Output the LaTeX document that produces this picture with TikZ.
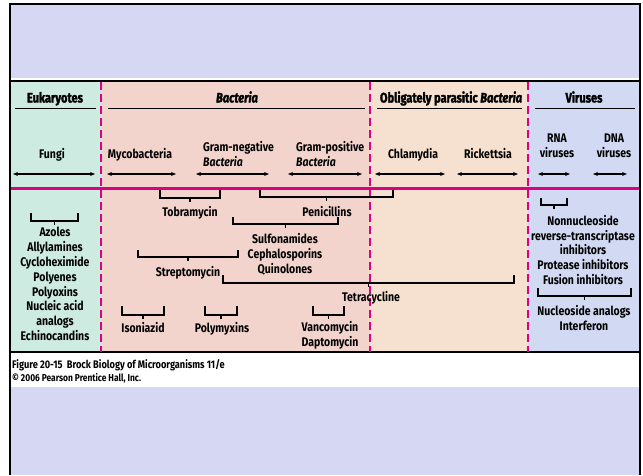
\documentclass[tikz,border=0pt]{standalone}
\usepackage{fontspec}
\setmainfont{Fira Sans}[FakeStretch=0.84]
\newfontfamily\headfont{Fira Sans}[FakeStretch=0.8,FakeBold=2]
\usetikzlibrary{arrows.meta,positioning}

\definecolor{lavtop}{RGB}{214,215,243}
\definecolor{eukcol}{RGB}{205,235,224}
\definecolor{bactcol}{RGB}{243,212,205}
\definecolor{oblcol}{RGB}{246,225,208}
\definecolor{vircol}{RGB}{210,218,243}
\definecolor{divmag}{RGB}{222,0,130}

\tikzset{
  head/.style={font=\headfont\bfseries\fontsize{13.8}{15}\selectfont, anchor=base, inner sep=0pt},
  org/.style={font=\bfseries\fontsize{12.5}{15}\selectfont, align=center, anchor=base, inner sep=0pt},
  drug/.style={font=\bfseries\fontsize{12.5}{14.8}\selectfont, align=center, anchor=base, inner sep=0pt},
  hostspan/.style={{Stealth[length=5pt,width=4pt]}-{Stealth[length=5pt,width=4pt]}, line width=1.3pt},
  divider/.style={divmag, line width=2.5pt, dash pattern=on 8pt off 4pt},
  brk/.style={line width=1.6pt},
  headrule/.style={line width=1pt}
}

% bracket: x1, x2, top of ticks, bar
\newcommand{\drugbrk}[4]{%
  \draw[brk] (#1,#3) -- (#1,#4) -- (#2,#4) -- (#2,#3)
    ({(#1+#2)/2},#4) -- ++(0,4);}

\begin{document}
\begin{tikzpicture}[x=1pt,y=-1pt]
\useasboundingbox (0,0) rectangle (643,475);

% frame and panels
\fill[lavtop] (11,5) rectangle (639,78);
\fill[lavtop] (11,387) rectangle (639,475);
\fill[eukcol] (11,82) rectangle (101,352);
\fill[bactcol] (101,82) rectangle (370,352);
\fill[oblcol] (370,82) rectangle (528,352);
\fill[vircol] (528,82) rectangle (639,352);
\draw[line width=2pt] (10,475) -- (10,4) -- (640,4) -- (640,475);
\draw[line width=2pt] (10,81) -- (640,81);
\draw[line width=2pt] (10,352) -- (640,352);

% group headings
\node[head] (euk) at (55,102.5) {Eukaryotes};
\node[head] (bact) at (237,102.5) {\itshape Bacteria};
\node[head] (obl) at (451,102.5) {Obligately parasitic \itshape Bacteria};
\node[head] (vir) at (584,102.5) {Viruses};
\draw[headrule] (15,108) -- (96,108);
\draw[headrule] (108,108) -- (365,108);
\draw[headrule] (377,108) -- (522,108);
\draw[headrule] (535,108) -- (635,108);

% organisms (base = last line)
\node[org] (fungi) at (52,158.5) {Fungi};
\node[org] (myco) at (140,158.5) {Mycobacteria};
\node[org, align=left, anchor=base west] (gramneg) at (203,166.5) {Gram-negative\\\itshape Bacteria};
\node[org, align=left, anchor=base west] (grampos) at (296,166.5) {Gram-positive\\\itshape Bacteria};
\node[org] (chlam) at (413,158.5) {Chlamydia};
\node[org] (rick) at (488,158.5) {Rickettsia};
\node[org] (rna) at (557,157.5) {RNA\\viruses};
\node[org] (dna) at (614,157.5) {DNA\\viruses};

\draw[hostspan] (13,174) -- (95,174);
\draw[hostspan] (107,174) -- (176,174);
\draw[hostspan] (196,174) -- (269,174);
\draw[hostspan] (288,174) -- (362,174);
\draw[hostspan] (375,174) -- (445,174);
\draw[hostspan] (457,174) -- (518,174);
\draw[hostspan] (538,174) -- (570,174);
\draw[hostspan] (593,174) -- (627,174);

% dividers
\draw[divmag, line width=3pt] (11,188) -- (639,188);
\foreach \xd in {101,370,528}
  \draw[divider] (\xd,82) -- (\xd,352);

% drugs
\drugbrk{31}{78}{213}{221}
\node[drug] (antifungal) at (55,340.5) {Azoles\\Allylamines\\Cycloheximide\\Polyenes\\Polyoxins\\Nucleic acid\\analogs\\Echinocandins};
\drugbrk{160}{220}{190}{198}
\node[drug] (tobra) at (190,216.5) {Tobramycin};
\drugbrk{260}{393}{190}{197}
\node[drug] (peni) at (327,216.5) {Penicillins};
\drugbrk{233}{338}{217}{224}
\node[drug] (sulfa) at (285,273.5) {Sulfonamides\\Cephalosporins\\Quinolones};
\drugbrk{138}{238}{250}{257}
\node[drug] (strepto) at (188,276.5) {Streptomycin};
\drugbrk{223}{514}{275}{283}
\node[drug] (tetra) at (371,301.5) {Tetracycline};
\drugbrk{122}{164}{306}{315}
\node[drug] (inh) at (143,332.5) {Isoniazid};
\drugbrk{205}{237}{306}{315}
\node[drug] (polymyx) at (222,332.5) {Polymyxins};
\drugbrk{313}{344}{306}{315}
\node[drug] (vanco) at (330,346.5) {Vancomycin\\Daptomycin};
\drugbrk{541}{567}{198}{205}
\node[drug] (antiretro) at (583,284.5) {Nonnucleoside\\reverse-transcriptase\\inhibitors\\Protease inhibitors\\Fusion inhibitors};
\drugbrk{538}{631}{288}{296}
\node[drug] (antiviral) at (584,330.5) {Nucleoside analogs\\Interferon};

% caption
\node[font=\bfseries\fontsize{11}{13}\selectfont, anchor=base west, inner sep=0pt] (fig) at (12,368.5) {Figure 20-15\ \ Brock Biology of Microorganisms 11/e};
\node[font=\bfseries\fontsize{10}{13}\selectfont, anchor=base west, inner sep=0pt] (copy) at (12,381.5) {© 2006 Pearson Prentice Hall, Inc.};
\end{tikzpicture}
\end{document}
